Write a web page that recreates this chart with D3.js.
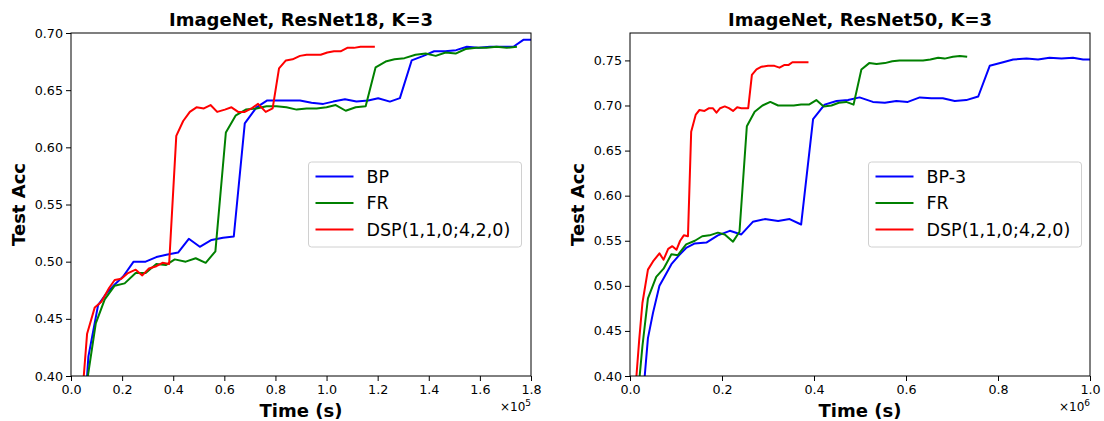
<!DOCTYPE html>
<html>
<head>
<meta charset="utf-8">
<script src="https://cdn.jsdelivr.net/npm/d3@7"></script>
<style>
  body { margin: 0; background: #fff; }
  text { font-family: "DejaVu Sans", sans-serif; }
</style>
</head>
<body>
<script>

    // ---- data: [time, test acc], time in units of the axis multiplier ----

    // ResNet18 (x 1e5 s)
    var r18_bp = [[0.063,0.40],[0.068,0.417],[0.106,0.462],[0.138,0.472],[0.171,0.480],[0.204,0.487],[0.245,0.500],[0.292,0.500],[0.334,0.504],[0.373,0.506],[0.419,0.508],[0.461,0.520],[0.504,0.513],[0.550,0.519],[0.595,0.521],[0.637,0.522],[0.680,0.621],[0.726,0.635],[0.768,0.641],[0.811,0.641],[0.856,0.641],[0.896,0.641],[0.941,0.639],[0.987,0.638],[1.026,0.640],[1.072,0.642],[1.117,0.640],[1.163,0.641],[1.202,0.643],[1.248,0.640],[1.287,0.643],[1.333,0.676],[1.379,0.680],[1.421,0.684],[1.464,0.684],[1.507,0.685],[1.549,0.688],[1.594,0.687],[1.640,0.688],[1.685,0.688],[1.731,0.688],[1.770,0.694],[1.800,0.694]];
    var r18_fr = [[0.066,0.40],[0.097,0.446],[0.132,0.467],[0.171,0.479],[0.210,0.481],[0.253,0.490],[0.292,0.490],[0.334,0.498],[0.371,0.497],[0.406,0.502],[0.449,0.500],[0.488,0.503],[0.527,0.499],[0.565,0.509],[0.606,0.613],[0.645,0.628],[0.684,0.633],[0.726,0.634],[0.765,0.636],[0.804,0.636],[0.843,0.635],[0.883,0.633],[0.922,0.634],[0.961,0.634],[1.000,0.635],[1.036,0.637],[1.075,0.632],[1.114,0.635],[1.153,0.636],[1.192,0.670],[1.231,0.675],[1.266,0.677],[1.305,0.678],[1.348,0.681],[1.388,0.682],[1.427,0.680],[1.466,0.683],[1.505,0.682],[1.544,0.686],[1.586,0.687],[1.626,0.687],[1.665,0.688],[1.705,0.687],[1.745,0.688]];
    var r18_dsp = [[0.050,0.40],[0.063,0.437],[0.093,0.460],[0.119,0.465],[0.149,0.477],[0.171,0.484],[0.197,0.485],[0.223,0.490],[0.253,0.493],[0.279,0.488],[0.305,0.494],[0.334,0.496],[0.358,0.499],[0.384,0.498],[0.412,0.610],[0.439,0.623],[0.465,0.631],[0.491,0.635],[0.520,0.634],[0.546,0.637],[0.572,0.631],[0.602,0.633],[0.628,0.635],[0.654,0.631],[0.680,0.631],[0.706,0.634],[0.732,0.638],[0.762,0.631],[0.789,0.634],[0.814,0.669],[0.841,0.676],[0.867,0.677],[0.896,0.680],[0.922,0.681],[0.948,0.681],[0.977,0.681],[1.003,0.683],[1.029,0.684],[1.055,0.684],[1.081,0.687],[1.107,0.687],[1.133,0.688],[1.159,0.688],[1.189,0.688]];

    // ResNet50 (x 1e6 s)
    var r50_bp = [[0.032,0.40],[0.039,0.442],[0.050,0.470],[0.064,0.500],[0.075,0.510],[0.090,0.524],[0.107,0.534],[0.122,0.542],[0.141,0.547],[0.166,0.548],[0.191,0.556],[0.217,0.561],[0.242,0.557],[0.267,0.571],[0.293,0.574],[0.322,0.572],[0.347,0.574],[0.372,0.568],[0.398,0.685],[0.423,0.701],[0.449,0.705],[0.474,0.706],[0.499,0.709],[0.528,0.704],[0.554,0.703],[0.579,0.705],[0.604,0.704],[0.630,0.709],[0.655,0.708],[0.680,0.708],[0.706,0.705],[0.731,0.706],[0.757,0.710],[0.782,0.744],[0.811,0.748],[0.833,0.751],[0.862,0.752],[0.887,0.751],[0.912,0.753],[0.938,0.752],[0.963,0.753],[0.985,0.751],[1.000,0.751]];
    var r50_fr = [[0.021,0.40],[0.027,0.433],[0.039,0.486],[0.057,0.510],[0.073,0.519],[0.090,0.535],[0.104,0.534],[0.122,0.546],[0.141,0.550],[0.157,0.555],[0.173,0.556],[0.191,0.559],[0.206,0.557],[0.224,0.549],[0.238,0.560],[0.254,0.677],[0.271,0.693],[0.288,0.700],[0.305,0.704],[0.322,0.700],[0.340,0.700],[0.356,0.700],[0.372,0.701],[0.389,0.701],[0.405,0.706],[0.421,0.699],[0.438,0.700],[0.454,0.703],[0.470,0.704],[0.486,0.701],[0.503,0.740],[0.520,0.747],[0.536,0.746],[0.554,0.747],[0.570,0.749],[0.586,0.750],[0.604,0.750],[0.622,0.750],[0.637,0.750],[0.653,0.751],[0.670,0.753],[0.684,0.752],[0.702,0.754],[0.717,0.755],[0.733,0.754]];
    var r50_dsp = [[0.014,0.40],[0.020,0.440],[0.027,0.481],[0.039,0.518],[0.050,0.527],[0.064,0.536],[0.073,0.529],[0.083,0.541],[0.092,0.544],[0.101,0.540],[0.109,0.550],[0.117,0.556],[0.126,0.555],[0.133,0.671],[0.143,0.690],[0.151,0.695],[0.162,0.694],[0.172,0.697],[0.180,0.697],[0.188,0.692],[0.196,0.697],[0.206,0.699],[0.215,0.697],[0.224,0.694],[0.233,0.698],[0.242,0.697],[0.257,0.697],[0.265,0.734],[0.275,0.740],[0.286,0.743],[0.300,0.744],[0.314,0.744],[0.325,0.742],[0.336,0.745],[0.345,0.745],[0.353,0.748],[0.365,0.748],[0.376,0.748],[0.388,0.748]];

    var r18_labels = ["BP", "FR", "DSP(1,1,0;4,2,0)"];
    var r50_labels = ["BP-3", "FR", "DSP(1,1,0;4,2,0)"];
    var colors = ["#0000ff", "#008000", "#ff0000"];

    var r18_xticks = [0, 0.2, 0.4, 0.6, 0.8, 1.0, 1.2, 1.4, 1.6, 1.8];
    var r18_yticks = [0.40, 0.45, 0.50, 0.55, 0.60, 0.65, 0.70];
    var r50_xticks = [0, 0.2, 0.4, 0.6, 0.8, 1.0];
    var r50_yticks = [0.40, 0.45, 0.50, 0.55, 0.60, 0.65, 0.70, 0.75];


    var svg = d3.select("body")
    .append("svg")
    .attr("width", 1104)
    .attr("height", 421);

    function drawPanel(opt) {
        var x = d3.scaleLinear().domain(opt.xdom).range([opt.left, opt.right]);
        var y = d3.scaleLinear().domain(opt.ydom).range([opt.bottom, opt.top]);

        var g = svg.append("g");

        // clip
        var clipId = "clip" + opt.id;
        svg.append("clipPath").attr("id", clipId)
        .append("rect")
        .attr("x", opt.left).attr("y", opt.top)
        .attr("width", opt.right - opt.left).attr("height", opt.bottom - opt.top);

        // axes
        var yAxis = d3.axisLeft(y).tickValues(opt.yticks).tickSize(5).tickPadding(3)
        .tickFormat(d3.format(".2f"));
        var xAxis = d3.axisBottom(x).tickValues(opt.xticks).tickSize(5).tickPadding(4)
        .tickFormat(d3.format(".1f"));

        var ya = g.append("g")
        .attr("transform", "translate(" + opt.left + ",0)")
        .call(yAxis);
        var xa = g.append("g")
        .attr("transform", "translate(0," + opt.bottom + ")")
        .call(xAxis);
        [ya, xa].forEach(function(a) {
            a.select(".domain").remove();
            a.selectAll("text").style("font-size", "12.7px").attr("fill", "#000");
            a.selectAll("line").attr("stroke", "#000");
        });

        // lines
        var line = d3.line()
        .x(function(d) { return x(d[0]); })
        .y(function(d) { return y(d[1]); });

        g.append("g")
        .attr("clip-path", "url(#" + clipId + ")")
        .selectAll("path")
        .data(opt.series)
        .enter().append("path")
        .attr("d", line)
        .attr("fill", "none")
        .attr("stroke", function(d, i) { return colors[i]; })
        .attr("stroke-width", 2)
        .attr("stroke-linejoin", "round");

        // frame
        g.append("rect")
        .attr("x", opt.left).attr("y", opt.top)
        .attr("width", opt.right - opt.left).attr("height", opt.bottom - opt.top)
        .attr("fill", "none")
        .attr("stroke", "#000")
        .attr("stroke-width", 1);

        // title + labels
        var cx = (opt.left + opt.right) / 2;
        g.append("text")
        .attr("x", cx).attr("y", 26)
        .attr("text-anchor", "middle")
        .style("font-size", "18px").style("font-weight", "bold")
        .text(opt.title);

        g.append("text")
        .attr("x", cx).attr("y", 417)
        .attr("text-anchor", "middle")
        .style("font-size", "18px").style("font-weight", "bold")
        .text("Time (s)");

        g.append("text")
        .attr("transform", "translate(" + (opt.left - 46) + "," + ((opt.top + opt.bottom) / 2) + ") rotate(-90)")
        .attr("text-anchor", "middle")
        .style("font-size", "18px").style("font-weight", "bold")
        .text("Test Acc");

        // offset text (x10^n)
        var off = g.append("text")
        .attr("x", opt.right).attr("y", 411)
        .attr("text-anchor", "end")
        .style("font-size", "12px");
        off.append("tspan").text("\u00d710");
        off.append("tspan").attr("dy", -5).style("font-size", "9px").text(opt.exp);

        // legend
        var lg = g.append("g")
        .attr("transform", "translate(" + opt.legX + ",162)");
        lg.append("rect")
        .attr("width", 213).attr("height", 85)
        .attr("rx", 3)
        .attr("fill", "#fff").attr("fill-opacity", 0.8)
        .attr("stroke", "#d0d0d0");
        var item = lg.selectAll(".item")
        .data(opt.labels)
        .enter().append("g")
        .attr("class", "item")
        .attr("transform", function(d, i) { return "translate(0," + (14.5 + i * 26.5) + ")"; });
        item.append("line")
        .attr("x1", 7).attr("x2", 45)
        .attr("stroke", function(d, i) { return colors[i]; })
        .attr("stroke-width", 2);
        item.append("text")
        .attr("x", 58).attr("dy", "0.36em")
        .style("font-size", "17.5px")
        .text(function(d) { return d; });
    }

    drawPanel({
        id: 18, left: 71, right: 531, top: 33, bottom: 376,
        xdom: [0, 1.8], ydom: [0.40, 0.70],
        xticks: r18_xticks, yticks: r18_yticks,
        series: [r18_bp, r18_fr, r18_dsp], labels: r18_labels,
        title: "ImageNet, ResNet18, K=3", exp: "5", legX: 308.5
    });

    drawPanel({
        id: 50, left: 630, right: 1090, top: 33, bottom: 376,
        xdom: [0, 1.0], ydom: [0.40, 0.7804],
        xticks: r50_xticks, yticks: r50_yticks,
        series: [r50_bp, r50_fr, r50_dsp], labels: r50_labels,
        title: "ImageNet, ResNet50, K=3", exp: "6", legX: 868.5
    });

</script>
</body>
</html>
